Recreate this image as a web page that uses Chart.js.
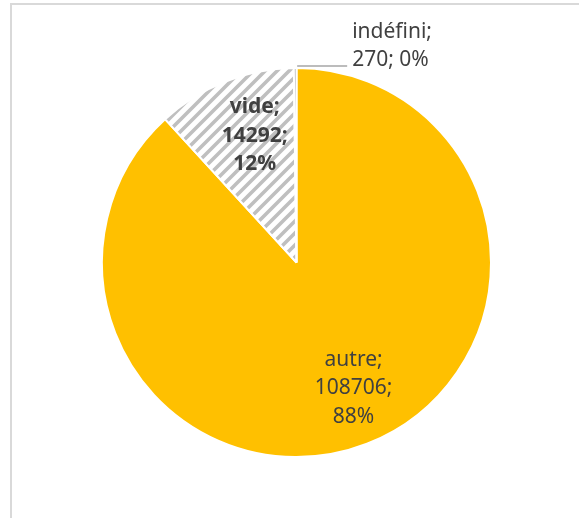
<!DOCTYPE html>
<html lang="fr">
<head>
<meta charset="utf-8">
<title>Répartition</title>
<script src="https://cdn.jsdelivr.net/npm/chart.js@4.4.1/dist/chart.umd.min.js"></script>
<style>
  html, body { margin: 0; padding: 0; background: #fff; }
  #pie { display: block; }
</style>
</head>
<body>
<canvas id="pie" width="579" height="518"></canvas>
<script>
/* values per category */
const categories = ["autre", "vide", "indéfini"];
const counts = [108706, 14292, 270];

const INK = "#404040";
const YELLOW = "#ffc000";
const HATCH = "#bfbfbf";
const FONT = "'Noto Sans', 'Liberation Sans', Arial, sans-serif";

// wide upward diagonal fill for the "vide" slice
function hatchPattern(ctx) {
  const s = 12;
  const c = document.createElement("canvas");
  c.width = s; c.height = s;
  const g = c.getContext("2d");
  g.fillStyle = "#fff";
  g.fillRect(0, 0, s, s);
  g.strokeStyle = HATCH;
  g.lineWidth = 3.6;
  g.beginPath();
  g.moveTo(-s / 2, s / 2); g.lineTo(s / 2, -s / 2);
  g.moveTo(0, s); g.lineTo(s, 0);
  g.moveTo(s / 2, s * 1.5); g.lineTo(s * 1.5, s / 2);
  g.stroke();
  return ctx.createPattern(c, "repeat");
}

const total = counts.reduce((a, b) => a + b, 0);
const pct = v => Math.round((v / total) * 100) + "%";

// light frame on the top and left edges
const framePlugin = {
  id: "frame",
  beforeDraw(chart) {
    const { ctx } = chart;
    ctx.save();
    ctx.fillStyle = "#fff";
    ctx.fillRect(0, 0, chart.width, chart.height);
    ctx.fillStyle = "#d9d9d9";
    ctx.fillRect(10, 3, chart.width - 10, 2);
    ctx.fillRect(10, 3, 2, chart.height - 3);
    ctx.restore();
  },
};

// "name; value; pct" labels — inside for big slices, leader line for tiny ones
const sliceLabels = {
  id: "sliceLabels",
  afterDatasetsDraw(chart, args, opts) {
    const { ctx } = chart;
    const meta = chart.getDatasetMeta(0);
    const lh = 28.5;
    ctx.save();
    ctx.fillStyle = INK;
    ctx.textBaseline = "middle";
    meta.data.forEach((arc, i) => {
      const p = arc.getProps(["x", "y", "startAngle", "endAngle", "outerRadius"], true);
      const mid = (p.startAngle + p.endAngle) / 2;
      const spec = opts.specs[i];
      const name = categories[i];
      const val = counts[i];
      ctx.font = (spec.bold ? "bold " : "") + "21px " + FONT;
      if (spec.inside) {
        const r = p.outerRadius * spec.r;
        const cx = p.x + Math.cos(mid) * r + spec.dx;
        const cy = p.y + Math.sin(mid) * r + spec.dy;
        ctx.textAlign = "center";
        ctx.fillText(name + ";", cx, cy - lh);
        ctx.fillText(val + ";", cx, cy);
        ctx.fillText(pct(val), cx, cy + lh);
      } else {
        const ax = p.x + Math.cos(mid) * p.outerRadius + 2;
        const ay = p.y + Math.sin(mid) * p.outerRadius - 2;
        ctx.strokeStyle = "#a6a6a6";
        ctx.lineWidth = 1.5;
        ctx.beginPath();
        ctx.moveTo(ax, ay);
        ctx.lineTo(ax + 50, ay);
        ctx.stroke();
        ctx.textAlign = "left";
        ctx.fillText(name + ";", ax + 55, ay - 34);
        ctx.fillText(val + "; " + pct(val), ax + 55, ay - 6);
      }
    });
    ctx.restore();
  },
};

const canvas = document.getElementById("pie");
const ctx2d = canvas.getContext("2d");

new Chart(canvas, {
  type: "pie",
  data: {
    labels: categories,
    datasets: [{
      data: counts,
      backgroundColor: [YELLOW, hatchPattern(ctx2d), "#a5a5a5"],
      borderColor: "#fff",
      borderWidth: 2,
      hoverOffset: 0,
    }],
  },
  options: {
    responsive: false,
    animation: false,
    events: [],
    layout: { padding: { left: 101, right: 87, top: 67, bottom: 60 } },
    plugins: {
      legend: { display: false },
      tooltip: { enabled: false },
      sliceLabels: {
        specs: [
          { inside: true, r: 0.71, dx: 7, dy: -3 },
          { inside: true, r: 0.68, dx: 7, dy: -4, bold: true },
          { inside: false },
        ],
      },
    },
  },
  plugins: [framePlugin, sliceLabels],
});
</script>
</body>
</html>
